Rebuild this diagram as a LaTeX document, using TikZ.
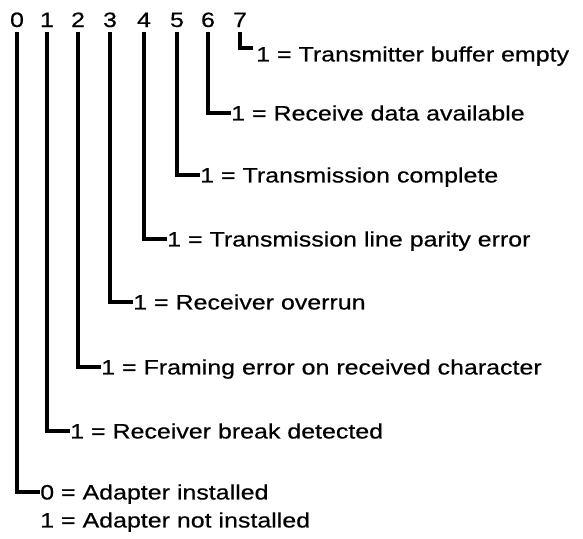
\documentclass[tikz,border=0pt]{standalone}
\usepackage{fontspec}
\setmainfont{Liberation Sans}[FakeStretch=1.2, FakeBold=0.5]

\begin{document}
\begin{tikzpicture}[x=0.75pt, y=-0.75pt,
    bit/.style={anchor=base, inner xsep=0pt, inner ysep=3.75pt, text depth=0pt,
        font=\fontsize{15.6pt}{18pt}\selectfont},
    lbl/.style={anchor=west, inner sep=0pt, text height=11.2pt, text depth=0pt,
        font=\fontsize{15.6pt}{18pt}\selectfont},
    wire/.style={line width=2.6pt}]
    \useasboundingbox (0,0) rectangle (583,539);

    % Bit numbers
    \foreach \k/\x in {0/17, 1/47, 2/78, 3/110, 4/144, 5/177, 6/208, 7/240} {
        \node[bit] (b\k) at (\x,27) {\k};
    }

    % Meaning of each bit
    \node[lbl] (l7) at (256,54) {1 = Transmitter buffer empty};
    \node[lbl] (l6) at (231,113) {1 = Receive data available};
    \node[lbl] (l5) at (200,175) {1 = Transmission complete};
    \node[lbl] (l4) at (167,239) {1 = Transmission line parity error};
    \node[lbl] (l3) at (133,302) {1 = Receiver overrun};
    \node[lbl] (l2) at (101,367) {1 = Framing error on received character};
    \node[lbl] (l1) at (70,431) {1 = Receiver break detected};
    \node[lbl] (l0) at (40,492) {0 = Adapter installed};
    \node[lbl] (l0b) at (40,520) {1 = Adapter not installed};

    % Leaders
    \foreach \k in {0,...,6} {
        \draw[wire] (b\k.south) |- (l\k.west);
    }
    \coordinate (e7) at (253,48);
    \draw[wire] (b7.south) |- (e7);
\end{tikzpicture}
\end{document}
